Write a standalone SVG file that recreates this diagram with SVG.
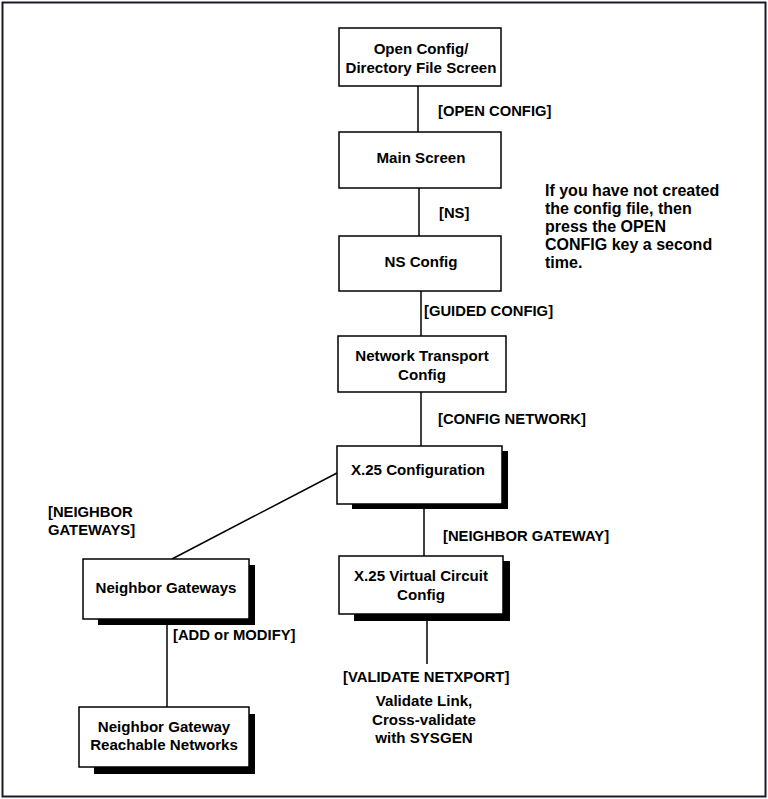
<svg xmlns="http://www.w3.org/2000/svg" width="768" height="799" viewBox="0 0 768 799">
<style>
text{font-family:"Liberation Sans",Arial,sans-serif;font-weight:bold;font-size:15.1px;fill:#000}
.c{text-anchor:middle}
.l{font-size:14.8px}
.n{font-size:16px}
.box{fill:#fff;stroke:#000;stroke-width:1.5}
.sh{fill:#000}
.ln{stroke:#000;stroke-width:1.5;fill:none}
</style>
<rect x="0" y="0" width="768" height="799" fill="#fff"/>
<rect x="2.5" y="2.5" width="763" height="794" fill="none" stroke="#1a1a2a" stroke-width="2"/>
<g id="connectors">
<line class="ln" x1="418" y1="86" x2="418" y2="132"/>
<line class="ln" x1="419" y1="188" x2="419" y2="236"/>
<line class="ln" x1="421" y1="291" x2="421" y2="336"/>
<line class="ln" x1="421" y1="392" x2="421" y2="446"/>
<line class="ln" x1="424" y1="504" x2="424" y2="556"/>
<line class="ln" x1="427" y1="614" x2="427" y2="664"/>
<line class="ln" x1="337" y1="473" x2="172" y2="559"/>
<line class="ln" x1="167" y1="619" x2="167" y2="707"/>
</g>
<g id="labels">
<text class="l" x="438" y="116">[OPEN CONFIG]</text>
<text class="l" x="439" y="218">[NS]</text>
<text class="l" x="424" y="316">[GUIDED CONFIG]</text>
<text class="l" x="438" y="424">[CONFIG NETWORK]</text>
<text class="l" x="443" y="541">[NEIGHBOR GATEWAY]</text>
<text class="l" x="48" y="517">[NEIGHBOR</text>
<text class="l" x="48" y="535">GATEWAYS]</text>
<text class="l" x="173" y="640">[ADD or MODIFY]</text>
<text class="l" x="343" y="682">[VALIDATE NETXPORT]</text>
<text class="c" x="424" y="706">Validate Link,</text>
<text class="c" x="424" y="725">Cross-validate</text>
<text class="c" x="424" y="743">with SYSGEN</text>
</g>
<g id="note">
<text class="n" x="545" y="196">If you have not created</text>
<text class="n" x="545" y="214">the config file, then</text>
<text class="n" x="545" y="232">press the OPEN</text>
<text class="n" x="545" y="250">CONFIG key a second</text>
<text class="n" x="545" y="268">time.</text>
</g>
<g id="open-config">
<rect class="box" x="339" y="28" width="162" height="58"/>
<text class="c" x="421" y="54">Open Config/</text>
<text class="c" x="421" y="73">Directory File Screen</text>
</g>
<g id="main-screen">
<rect class="box" x="339" y="132" width="162" height="56"/>
<text class="c" x="421" y="163">Main Screen</text>
</g>
<g id="ns-config">
<rect class="box" x="339" y="236" width="162" height="55"/>
<text class="c" x="421" y="267">NS Config</text>
</g>
<g id="network-transport">
<rect class="box" x="338" y="336" width="168" height="56"/>
<text class="c" x="422" y="361">Network Transport</text>
<text class="c" x="422" y="380">Config</text>
</g>
<g id="x25-config">
<rect class="sh" x="352" y="451" width="156" height="58"/>
<rect class="box" x="337" y="446" width="165" height="58"/>
<text class="c" x="418" y="475">X.25 Configuration</text>
</g>
<g id="x25-vc">
<rect class="sh" x="354" y="561" width="156" height="60"/>
<rect class="box" x="339" y="556" width="164" height="58"/>
<text class="c" x="421" y="581">X.25 Virtual Circuit</text>
<text class="c" x="421" y="600">Config</text>
</g>
<g id="neighbor-gateways">
<rect class="sh" x="98" y="565" width="157" height="60"/>
<rect class="box" x="83" y="559" width="166" height="60"/>
<text class="c" x="166" y="593">Neighbor Gateways</text>
</g>
<g id="reachable-networks">
<rect class="sh" x="94" y="714" width="161" height="60"/>
<rect class="box" x="79" y="707" width="170" height="60"/>
<text class="c" x="164" y="732">Neighbor Gateway</text>
<text class="c" x="164" y="750">Reachable Networks</text>
</g>
</svg>
